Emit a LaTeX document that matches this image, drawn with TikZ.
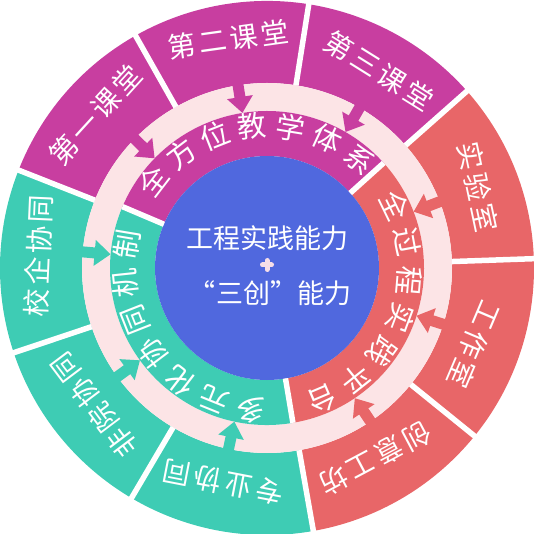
\documentclass[tikz,border=0pt]{standalone}
\usepackage{fontspec}
\setmainfont{Noto Sans CJK SC}
\usetikzlibrary{arrows.meta}
\definecolor{classmag}{RGB}{200,62,160}
\definecolor{labred}{RGB}{232,102,104}
\definecolor{coopteal}{RGB}{62,204,180}
\definecolor{coreblue}{RGB}{80,104,222}
\definecolor{palepink}{RGB}{252,228,230}
\definecolor{plusink}{RGB}{246,222,232}
% annular sector: colour, from, to, inner radius, outer radius
\newcommand\ringpart[5]{\fill[#1] (#2:#4) arc[start angle=#2, end angle=#3, radius=#4] -- (#3:#5) arc[start angle=#3, end angle=#2, radius=#5] -- cycle;}
% characters set clockwise round the centre: name, first angle, step, radius, style, chars
\newcommand\ringtext[6]{\foreach \ch [count=\i] in {#6} {
    \pgfmathsetmacro\ang{#2-(\i-1)*#3}
    \node[#5, rotate=\ang-90] (#1-\i) at (\ang:#4) {\ch};}}

\begin{document}
\begin{tikzpicture}[x=1pt, y=1pt,
    outtxt/.style={text=white, font=\fontsize{28}{30}\selectfont\addfontfeature{LetterSpace=12}, inner sep=0pt},
    intxt/.style={text=white, font=\fontsize{29}{30}\selectfont, inner sep=0pt, text height=0.8em, text depth=0.08em},
    cut/.style={white, line width=5.5pt},
    feed/.style={line width=11pt, -{Triangle[width=25pt,length=16pt]}}]
  \useasboundingbox (-267,-266) rectangle (267,268);
  \ringpart{classmag}{41.5}{158.5}{185}{267}
  \ringpart{coopteal}{158.5}{280}{185}{267}
  \ringpart{labred}{-80}{41.5}{185}{267}
  \ringpart{palepink}{0}{360}{157}{185}
  \ringpart{classmag}{42}{157}{112}{157}
  \ringpart{coopteal}{157}{279.5}{112}{157}
  \ringpart{labred}{-80.5}{42}{112}{157}
  \node[circle, fill=coreblue, minimum size=224pt, inner sep=0pt] (core) at (0,0) {};
  \foreach \a in {2,41.5,81,119.5,158.5,198.5,239.5,280,321} \draw[cut] (\a:185) -- (\a:268);
  \foreach \a in {42,157,279.5} \draw[cut] (\a:112) -- (\a:157);

  \foreach \a/\c [count=\i] in {135.7/classmag,99/classmag,60/classmag,21/labred,-17.7/labred,-56/labred,258/coopteal,216/coopteal,175/coopteal} {
    \coordinate (src\i) at (\a:198);
    \coordinate (dst\i) at (\a:157);
    \draw[feed, \c] (src\i) -- (dst\i);
  }

  \node[outtxt, rotate=47.6] (k1) at (138.3:230) {第一课堂};
  \node[outtxt, rotate=8] (k2) at (99.5:232) {第二课堂};
  \node[outtxt, rotate=-32] (k3) at (60.4:227) {第三课堂};
  \node[outtxt, rotate=-78] (p1) at (21:226) {实验室};
  \node[outtxt, rotate=-113] (p2) at (-20.3:221) {工作室};
  \node[outtxt, rotate=-152] (p3) at (-60.3:219) {创意工坊};
  \node[outtxt, rotate=169] (c1) at (258.5:219) {专业协同};
  \node[outtxt, rotate=127] (c2) at (218.5:221) {非院协同};
  \node[outtxt, rotate=87.5] (c3) at (176.9:229) {校企协同};

  \ringtext{all}{142.5}{15.5}{135}{intxt}{全,方,位,教,学,体,系}
  \ringtext{prac}{26}{15.5}{135}{intxt}{全,过,程,实,践,平,台}
  \ringtext{coop}{263.5}{15.5}{135}{intxt}{多,元,化,协,同,机,制}

  \node[text=white, font=\fontsize{27}{30}\selectfont] (goal1) at (0,30) {工程实践能力};
  \node[text=white, font=\fontsize{27}{30}\selectfont] (goal2) at (3,-25) {“三创”能力};
  \draw[plusink, line width=5pt, line cap=round] (-4.5,3) -- (4.5,3) (0,-1.5) -- (0,7.5);
\end{tikzpicture}
\end{document}
